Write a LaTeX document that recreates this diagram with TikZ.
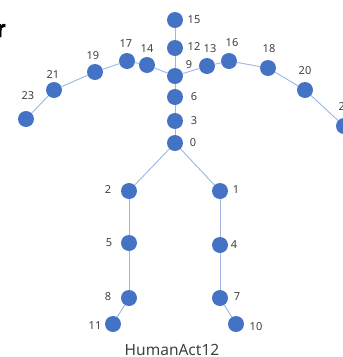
\documentclass[tikz,border=0pt]{standalone}
\usepackage{fontspec}
\setmainfont{Noto Sans}
\newfontfamily\tagfont[FakeBold=2]{Liberation Sans}

\definecolor{jointblue}{HTML}{4472C4}
\definecolor{bonelink}{HTML}{9DB5E0}
\definecolor{labelgray}{HTML}{404040}

\tikzset{
    joint/.style={circle, fill=jointblue, inner sep=0pt, minimum size=16pt},
    bone/.style={draw=bonelink, line width=0.9pt},
    jointlabel/.style={text=labelgray, font=\fontsize{11}{13}\selectfont, inner sep=0pt}
}

\begin{document}
\begin{tikzpicture}[x=1pt, y=-1pt]
    \useasboundingbox (0,0) rectangle (343,357);

    % joints: number / x / y / label x / label y
    \foreach \n/\x/\y/\lx/\ly in {
        15/175/20/194/20, 12/175/48/194/47, 9/175/76/189/65,
        6/175/97/194/97, 3/175/121/194/121, 0/175/143/193/143,
        13/207/66/210/49, 16/229/61/232/43, 18/268/68/269/49,
        20/305/90/305/71, 22/344/126/345/107,
        14/147/65/147/49, 17/127/61/126/44, 19/95/72/93/56,
        21/54/90/53/75, 23/26/119/28/96,
        2/129/191/108/190, 5/129/243/109/243, 8/129/298/108/297,
        11/113/324/95/326,
        1/220/191/236/190, 4/220/245/234/245, 7/220/298/237/297,
        10/236/324/256/327}
        {\node[joint] (j\n) at (\x,\y) {};
         \node[jointlabel] (l\n) at (\lx,\ly) {\n};}

    % skeleton links
    \foreach \a/\b in {15/12, 12/9, 9/6, 6/3, 3/0,
                       9/13, 13/16, 16/18, 18/20, 20/22,
                       9/14, 14/17, 17/19, 19/21, 21/23,
                       0/2, 2/5, 5/8, 8/11,
                       0/1, 1/4, 4/7, 7/10}
        {\draw[bone] (j\a) -- (j\b);}

    \node[text=black, font=\tagfont\bfseries\fontsize{24}{28}\selectfont,
          inner sep=0pt, anchor=base west] (tag) at (-4,37) {r};
    \node[text=labelgray, font=\fontsize{15.5}{18}\selectfont] (title) at (172,350) {HumanAct12};
\end{tikzpicture}
\end{document}
